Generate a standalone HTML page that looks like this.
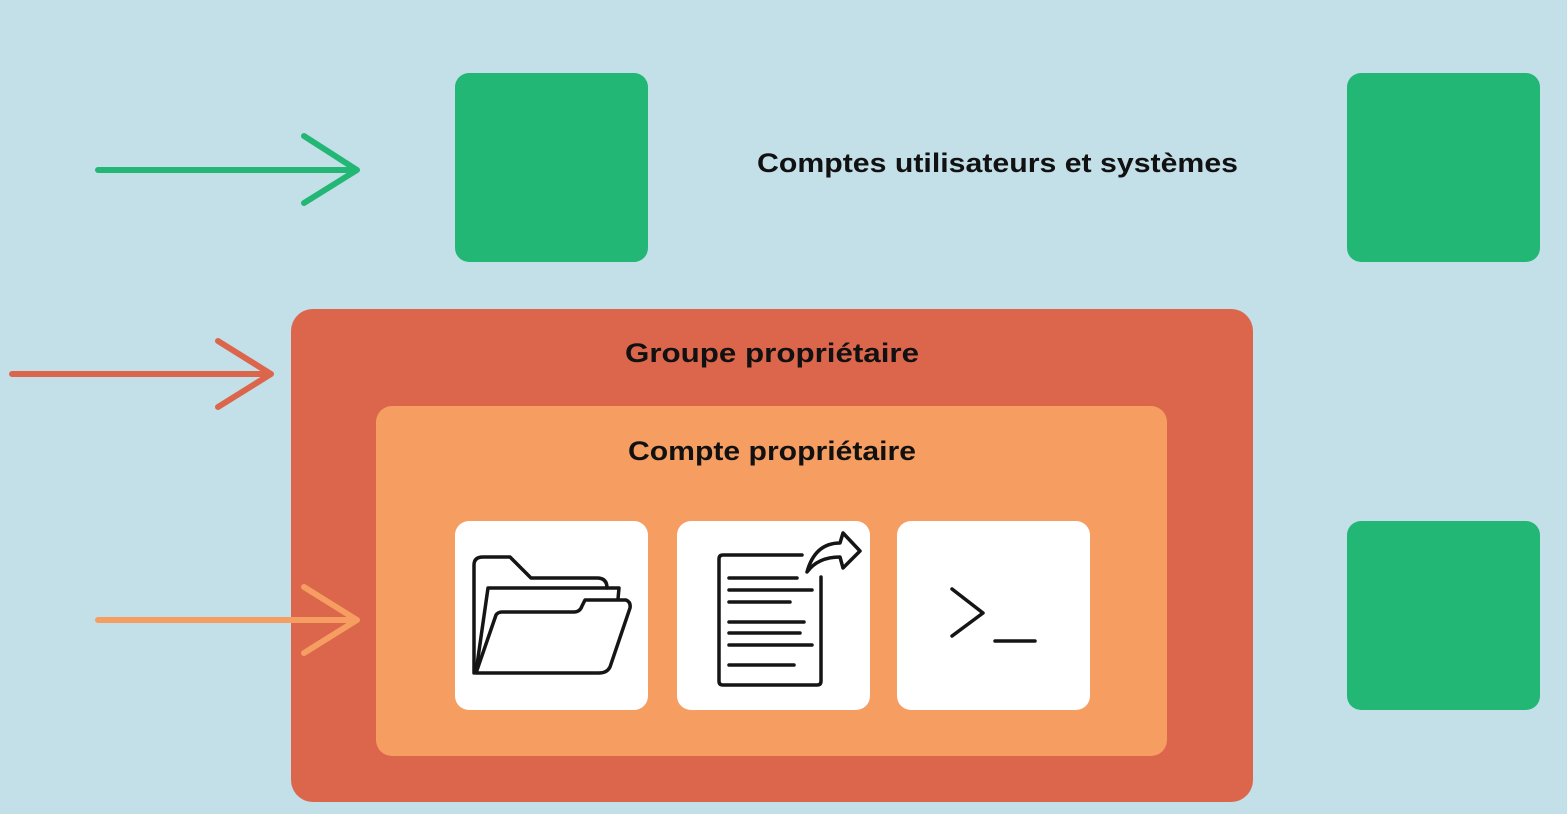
<!DOCTYPE html>
<html><head><meta charset="utf-8"><style>
html,body{margin:0;padding:0;background:#c3dfe8;}
svg{display:block}
text{font-family:"Liberation Sans",sans-serif;font-weight:bold;fill:#111;}
</style></head><body>
<svg width="1567" height="814" viewBox="0 0 1567 814" xmlns="http://www.w3.org/2000/svg">
<rect width="1567" height="814" fill="#c3dfe8"/>
<rect x="455" y="73" width="193" height="189" rx="14" fill="#23b776"/>
<rect x="1347" y="73" width="193" height="189" rx="14" fill="#23b776"/>
<rect x="1347" y="521" width="193" height="189" rx="14" fill="#23b776"/>
<text x="757" y="172" font-size="27" textLength="481" lengthAdjust="spacingAndGlyphs">Comptes utilisateurs et systèmes</text>
<rect x="291" y="309" width="962" height="493" rx="22" fill="#db664c"/>
<text x="625" y="362" font-size="27" textLength="294" lengthAdjust="spacingAndGlyphs">Groupe propriétaire</text>
<rect x="376" y="406" width="791" height="350" rx="16" fill="#f69d62"/>
<text x="628" y="460" font-size="27" textLength="288" lengthAdjust="spacingAndGlyphs">Compte propriétaire</text>
<rect x="455" y="521" width="193" height="189" rx="14" fill="#fff"/>
<rect x="677" y="521" width="193" height="189" rx="14" fill="#fff"/>
<rect x="897" y="521" width="193" height="189" rx="14" fill="#fff"/>
<g fill="none" stroke-width="6" stroke-linecap="round" stroke-linejoin="round">
<path d="M98 170H357M304 136L357 170L304 203" stroke="#23b776"/>
<path d="M12 374H271M218 341L271 374L218 407" stroke="#db664c"/>
<path d="M98 620H357M304 587L357 620L304 653" stroke="#f69d62"/>
</g>
<g fill="none" stroke="#151515" stroke-width="3.5" stroke-linecap="round" stroke-linejoin="round">
<path d="M474 673V565Q474 557 483 557H510L531 578H597Q607 578 607 588"/>
<path d="M476 672L488 588H619L618 599"/>
<path d="M476 673L496 615Q498 612 502 612H574Q580 612 582 606L585 600H626Q631 602 630 608L610 667Q607 673 599 673Z"/>
<path d="M802 555H723Q719 555 719 559V681Q719 685 723 685H817Q821 685 821 681V577"/>
<path d="M729 578H797M729 590H812M729 602H790M729 622H804M729 633H800M729 645H812M729 665H794"/>
<path d="M807 572Q818 557 840 557L843 568L860 551L843 533L840 543Q815 543 807 572Z"/>
<path d="M952 589L983 613L952 636M995 641H1035"/>
</g>
</svg>
</body></html>
